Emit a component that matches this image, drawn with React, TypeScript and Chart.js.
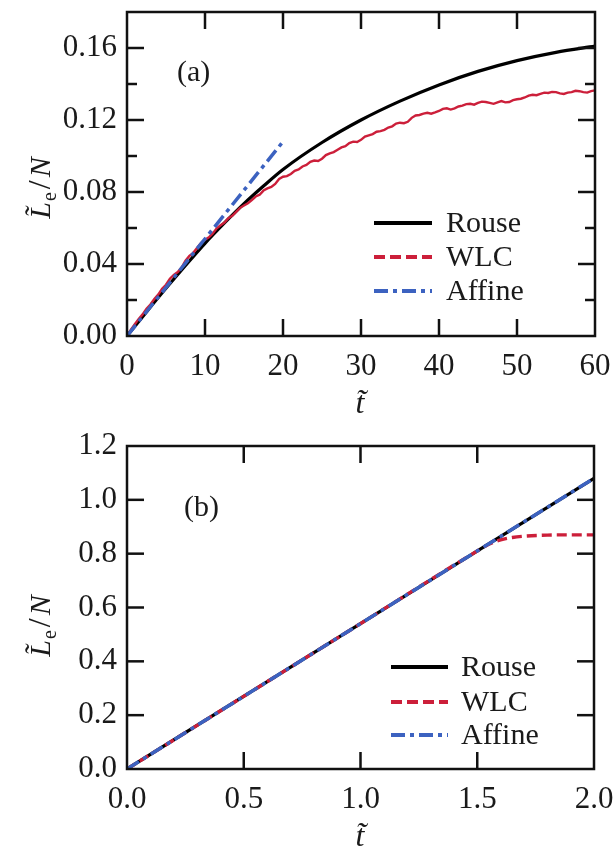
import React, { useEffect, useRef } from "react";
import { Chart, registerables } from "chart.js";
Chart.register(...registerables);

const SERIF = "'Liberation Serif', 'Times New Roman', Times, serif";
const W = 615;
const BLACK = "#000000";
const RED = "#cc1f3a";
const BLUE = "#3c62c0";
const TEXT = "#1a1a1a";

const seriesNames = ["Rouse", "WLC", "Affine"];

// ---------- Panel (a) ----------
const aRouseT = [0, 2.5, 5, 7.5, 10, 12.5, 15, 17.5, 20, 25, 30, 35, 40, 45, 50, 55, 60];
const aRouseV = [0, 0.0134, 0.0265, 0.0392, 0.0515, 0.0628, 0.0735, 0.0833, 0.0925, 0.1075, 0.12, 0.1305, 0.1395, 0.147, 0.153, 0.1576, 0.161];

const aWlcT = [
  0, 0.5, 1, 1.5, 2, 2.5, 3, 3.5, 4, 4.5, 5, 5.5, 6, 6.5, 7, 7.5, 8, 8.5, 9, 9.5,
  10, 10.5, 11, 11.5, 12, 12.5, 13, 13.5, 14, 14.5, 15, 15.5, 16, 16.5, 17, 17.5, 18, 18.5, 19, 19.5,
  20, 20.5, 21, 21.5, 22, 22.5, 23, 23.5, 24, 24.5, 25, 25.5, 26, 26.5, 27, 27.5, 28, 28.5, 29, 29.5,
  30, 30.5, 31, 31.5, 32, 32.5, 33, 33.5, 34, 34.5, 35, 35.5, 36, 36.5, 37, 37.5, 38, 38.5, 39, 39.5,
  40, 40.5, 41, 41.5, 42, 42.5, 43, 43.5, 44, 44.5, 45, 45.5, 46, 46.5, 47, 47.5, 48, 48.5, 49, 49.5,
  50, 50.5, 51, 51.5, 52, 52.5, 53, 53.5, 54, 54.5, 55, 55.5, 56, 56.5, 57, 57.5, 58, 58.5, 59, 59.5,
  60,
];
const aWlcV = [
  0, 0.0035, 0.0065, 0.0095, 0.012, 0.0152, 0.0175, 0.0205, 0.023, 0.0262,
  0.0285, 0.0318, 0.034, 0.0355, 0.038, 0.0418, 0.0445, 0.0462, 0.049, 0.0518,
  0.0535, 0.0548, 0.057, 0.0598, 0.0615, 0.063, 0.0655, 0.0668, 0.069, 0.0712,
  0.0725, 0.0738, 0.0755, 0.0775, 0.0785, 0.0808, 0.082, 0.0828, 0.0845, 0.0872,
  0.0885, 0.0888, 0.09, 0.0918, 0.0925, 0.0942, 0.095, 0.0968, 0.0975, 0.0972,
  0.0985, 0.1005, 0.1015, 0.1022, 0.1035, 0.1048, 0.1055, 0.1072, 0.108, 0.1078,
  0.109, 0.1108, 0.1115, 0.1122, 0.1135, 0.1138, 0.1145, 0.1158, 0.1165, 0.118,
  0.1185, 0.1182, 0.119, 0.1212, 0.1225, 0.1228, 0.1235, 0.124, 0.1235, 0.1242,
  0.125, 0.1262, 0.1265, 0.1258, 0.1265, 0.1275, 0.128, 0.1288, 0.129, 0.1285,
  0.1295, 0.1302, 0.13, 0.1295, 0.129, 0.1298, 0.1305, 0.1298, 0.13, 0.131,
  0.1315, 0.1318, 0.1325, 0.1335, 0.134, 0.1338, 0.1345, 0.1352, 0.135, 0.1356,
  0.1355, 0.1348, 0.1345, 0.1352, 0.1355, 0.1362, 0.136, 0.1355, 0.1352, 0.136,
  0.1365,
];

const aAffineT = [0, 20];
const aAffineV = [0, 0.108];

const aXTickValues = [0, 10, 20, 30, 40, 50, 60];
const aXTickLabels = ["0", "10", "20", "30", "40", "50", "60"];
const aYTickValues = [0, 0.02, 0.04, 0.06, 0.08, 0.1, 0.12, 0.14, 0.16];
const aYTickLabels = ["0.00", "", "0.04", "", "0.08", "", "0.12", "", "0.16"];

// ---------- Panel (b) ----------
const bRouseT = [0, 2.0];
const bRouseV = [0, 1.08];
const bWlcT = [0, 0.5, 1.0, 1.5, 1.55, 1.6, 1.65, 1.7, 1.8, 1.9, 2.0];
const bWlcV = [0, 0.27, 0.54, 0.81, 0.835, 0.851, 0.86, 0.865, 0.869, 0.87, 0.87];
const bAffineT = [0, 2.0];
const bAffineV = [0, 1.08];

const bXTickValues = [0, 0.5, 1.0, 1.5, 2.0];
const bXTickLabels = ["0.0", "0.5", "1.0", "1.5", "2.0"];
const bYTickValues = [0, 0.2, 0.4, 0.6, 0.8, 1.0, 1.2];
const bYTickLabels = ["0.0", "0.2", "0.4", "0.6", "0.8", "1.0", "1.2"];

const zip = (t: number[], v: number[]) => t.map((x, i) => ({ x, y: v[i] }));

type Spec = {
  top: number;
  height: number;
  area: { left: number; right: number; top: number; bottom: number };
  xMin: number; xMax: number; yMin: number; yMax: number;
  xTicks: number[]; xLabels: string[];
  yTicks: number[]; yLabels: string[];
  rouse: { x: number; y: number }[];
  wlc: { x: number; y: number }[];
  affine: { x: number; y: number }[];
  wlcWidth: number;
  wlcDash: number[];
  wlcSmooth: boolean;
  legend: { x1: number; x2: number; tx: number; ys: number[] };
  panel: { text: string; x: number; y: number };
  yTitle: { x: number; y: number };
  xTitle: { x: number; y: number };
};

const specA: Spec = {
  top: 0,
  height: 420,
  area: { left: 127, right: 595, top: 12, bottom: 336 },
  xMin: 0, xMax: 60, yMin: 0, yMax: 0.18,
  xTicks: aXTickValues, xLabels: aXTickLabels,
  yTicks: aYTickValues, yLabels: aYTickLabels,
  rouse: zip(aRouseT, aRouseV),
  wlc: zip(aWlcT, aWlcV),
  affine: zip(aAffineT, aAffineV),
  wlcWidth: 2.4,
  wlcDash: [],
  wlcSmooth: false,
  legend: { x1: 374, x2: 432, tx: 446, ys: [223, 257, 291] },
  panel: { text: "(a)", x: 177, y: 73 },
  yTitle: { x: 50, y: 188 },
  xTitle: { x: 360, y: 413 },
};

const specB: Spec = {
  top: 420,
  height: 428,
  area: { left: 127, right: 594, top: 26, bottom: 349 },
  xMin: 0, xMax: 2.0, yMin: 0, yMax: 1.2,
  xTicks: bXTickValues, xLabels: bXTickLabels,
  yTicks: bYTickValues, yLabels: bYTickLabels,
  rouse: zip(bRouseT, bRouseV),
  wlc: zip(bWlcT, bWlcV),
  affine: zip(bAffineT, bAffineV),
  wlcWidth: 3.4,
  wlcDash: [10, 5],
  wlcSmooth: true,
  legend: { x1: 391, x2: 448, tx: 461, ys: [247, 282, 315] },
  panel: { text: "(b)", x: 184, y: 88 },
  yTitle: { x: 50, y: 206 },
  xTitle: { x: 360, y: 426 },
};

function labelFor(values: number[], labels: string[], v: number): string {
  for (let i = 0; i < values.length; i++) {
    if (Math.abs(values[i] - v) < 1e-9) return labels[i];
  }
  return "";
}

function makeDecor(spec: Spec) {
  return {
    id: "decor",
    afterDraw(chart: any) {
      const ctx = chart.ctx as CanvasRenderingContext2D;
      const a = chart.chartArea;
      const xs = chart.scales.x;
      const ys = chart.scales.y;
      ctx.save();
      ctx.strokeStyle = "#111";
      ctx.lineWidth = 2.5;
      ctx.setLineDash([]);
      const seg = (x1: number, y1: number, x2: number, y2: number) => {
        ctx.beginPath();
        ctx.moveTo(x1, y1);
        ctx.lineTo(x2, y2);
        ctx.stroke();
      };
      xs.ticks.forEach((t: any) => {
        const p = xs.getPixelForValue(t.value);
        if (p <= a.left + 1 || p >= a.right - 1) return;
        const len = labelFor(spec.xTicks, spec.xLabels, t.value) === "" ? 10 : 17;
        seg(p, a.bottom, p, a.bottom - len);
        seg(p, a.top, p, a.top + len);
      });
      ys.ticks.forEach((t: any) => {
        const p = ys.getPixelForValue(t.value);
        if (p <= a.top + 1 || p >= a.bottom - 1) return;
        const len = labelFor(spec.yTicks, spec.yLabels, t.value) === "" ? 10 : 17;
        seg(a.left, p, a.left + len, p);
        seg(a.right, p, a.right - len, p);
      });
      ctx.strokeRect(a.left, a.top, a.right - a.left, a.bottom - a.top);

      // legend
      const dsets = chart.data.datasets;
      ctx.font = `30px ${SERIF}`;
      ctx.textBaseline = "middle";
      ctx.textAlign = "left";
      dsets.forEach((d: any, i: number) => {
        const y = spec.legend.ys[i];
        ctx.strokeStyle = d.borderColor;
        ctx.lineWidth = 3.8;
        ctx.setLineDash(i === 1 ? [11, 5] : d.borderDash || []);
        seg(spec.legend.x1, y, spec.legend.x2, y);
        ctx.setLineDash([]);
        ctx.fillStyle = TEXT;
        ctx.fillText(seriesNames[i], spec.legend.tx, y + 1);
      });

      // panel label
      ctx.fillStyle = TEXT;
      ctx.font = `30px ${SERIF}`;
      ctx.textBaseline = "middle";
      ctx.fillText(spec.panel.text, spec.panel.x, spec.panel.y);

      // x title
      ctx.font = `italic 32px ${SERIF}`;
      ctx.textAlign = "center";
      ctx.textBaseline = "alphabetic";
      ctx.fillText("t\u0303", spec.xTitle.x, spec.xTitle.y);

      // y title (rotated)
      ctx.save();
      ctx.translate(spec.yTitle.x, spec.yTitle.y);
      ctx.rotate(-Math.PI / 2);
      ctx.textAlign = "left";
      ctx.textBaseline = "alphabetic";
      const pieces = [
        { t: "L\u0303", f: `italic 30px ${SERIF}`, dy: 0, gap: 1 },
        { t: "e", f: `20px ${SERIF}`, dy: 6, gap: 3 },
        { t: "/", f: `32px ${SERIF}`, dy: 0, gap: 3 },
        { t: "N", f: `italic 30px ${SERIF}`, dy: 0, gap: 0 },
      ];
      let total = 0;
      pieces.forEach((p) => {
        ctx.font = p.f;
        total += ctx.measureText(p.t).width + p.gap;
      });
      let x = -total / 2;
      pieces.forEach((p) => {
        ctx.font = p.f;
        ctx.fillText(p.t, x, p.dy);
        x += ctx.measureText(p.t).width + p.gap;
      });
      ctx.restore();
      ctx.restore();
    },
  };
}

function buildChart(canvas: HTMLCanvasElement, spec: Spec) {
  const H = spec.height;
  const area = spec.area;
  return new Chart(canvas, {
    type: "line",
    data: {
      datasets: [
        {
          label: seriesNames[0],
          data: spec.rouse,
          borderColor: BLACK,
          borderWidth: 3.2,
          pointRadius: 0,
          cubicInterpolationMode: "monotone",
          order: 2,
        },
        {
          label: seriesNames[1],
          data: spec.wlc,
          borderColor: RED,
          borderWidth: spec.wlcWidth,
          borderDash: spec.wlcDash,
          pointRadius: 0,
          tension: 0,
          cubicInterpolationMode: spec.wlcSmooth ? "monotone" : "default",
          order: 1,
        },
        {
          label: seriesNames[2],
          data: spec.affine,
          borderColor: BLUE,
          borderWidth: 3.5,
          borderDash: [14, 5, 4, 5],
          pointRadius: 0,
          order: 0,
        },
      ],
    } as any,
    options: {
      responsive: false,
      animation: false,
      events: [],
      layout: {
        padding: { left: 0, top: area.top, right: W - area.right, bottom: 0 },
      },
      plugins: {
        legend: { display: false },
        tooltip: { enabled: false },
        title: { display: false },
      },
      scales: {
        x: {
          type: "linear",
          min: spec.xMin,
          max: spec.xMax,
          grid: { display: false, drawTicks: false },
          border: { display: false },
          afterBuildTicks: (s: any) => {
            s.ticks = spec.xTicks.map((v) => ({ value: v }));
          },
          afterFit: (s: any) => {
            s.height = H - area.bottom;
            s.paddingLeft = 0;
            s.paddingRight = 0;
            s.paddingTop = 0;
            s.paddingBottom = 0;
          },
          ticks: {
            autoSkip: false,
            maxRotation: 0,
            padding: 12,
            color: TEXT,
            font: { family: SERIF, size: 31 },
            callback: (v: any) => labelFor(spec.xTicks, spec.xLabels, Number(v)),
          },
        },
        y: {
          type: "linear",
          min: spec.yMin,
          max: spec.yMax,
          grid: { display: false, drawTicks: false },
          border: { display: false },
          afterBuildTicks: (s: any) => {
            s.ticks = spec.yTicks.map((v) => ({ value: v }));
          },
          afterFit: (s: any) => {
            s.width = area.left;
            s.paddingLeft = 0;
            s.paddingRight = 0;
            s.paddingTop = 0;
            s.paddingBottom = 0;
          },
          ticks: {
            autoSkip: false,
            padding: 10,
            color: TEXT,
            font: { family: SERIF, size: 31 },
            callback: (v: any) => labelFor(spec.yTicks, spec.yLabels, Number(v)),
          },
        },
      },
    } as any,
    plugins: [makeDecor(spec)],
  });
}

function Panel({ spec }: { spec: Spec }) {
  const ref = useRef<HTMLCanvasElement | null>(null);
  useEffect(() => {
    if (!ref.current) return;
    const chart = buildChart(ref.current, spec);
    return () => chart.destroy();
  }, [spec]);
  return (
    <canvas
      ref={ref}
      width={W}
      height={spec.height}
      style={{ position: "absolute", left: 0, top: spec.top, width: W, height: spec.height }}
    />
  );
}

export default function App() {
  return (
    <div
      style={{
        position: "absolute",
        left: 0,
        top: 0,
        width: W,
        height: 848,
        background: "#ffffff",
        overflow: "hidden",
      }}
    >
      <Panel spec={specA} />
      <Panel spec={specB} />
    </div>
  );
}
